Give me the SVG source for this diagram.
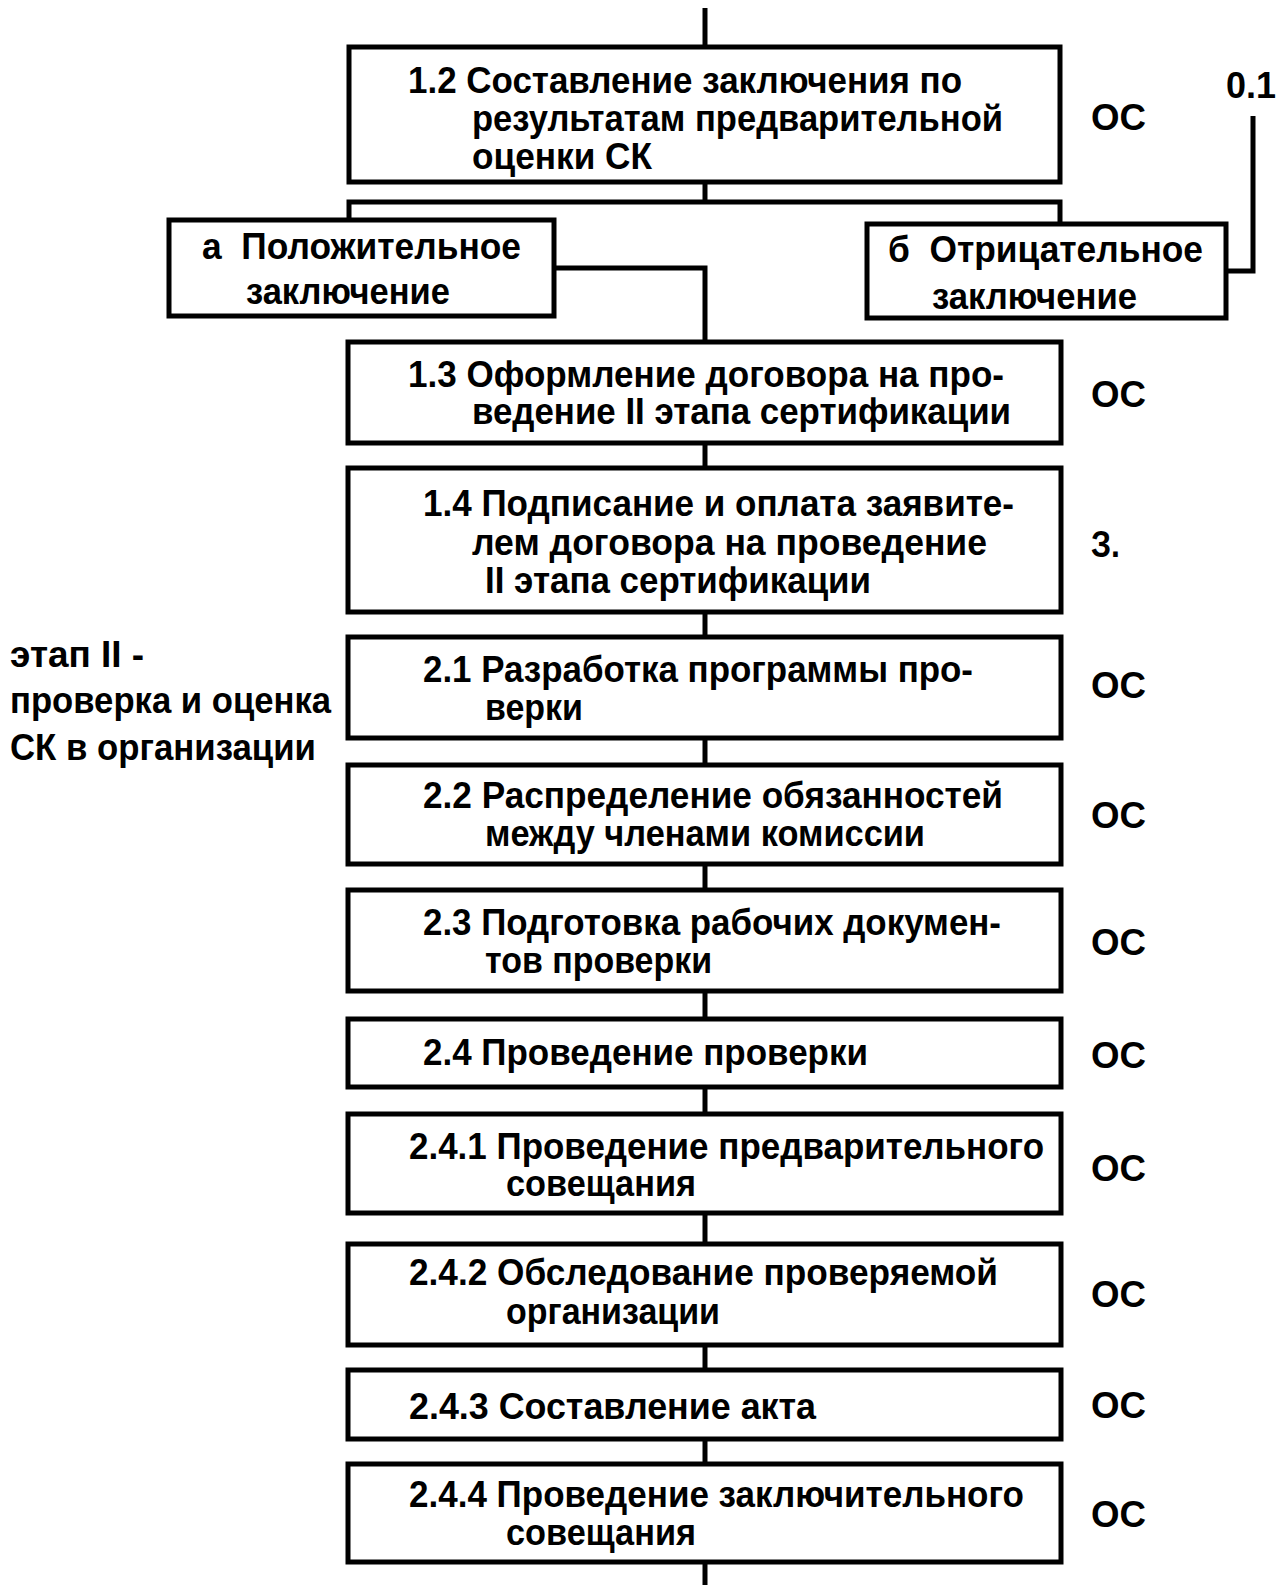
<svg xmlns="http://www.w3.org/2000/svg" width="1284" height="1585" viewBox="0 0 1284 1585">
<style>
.box{fill:#fff;stroke:#000;stroke-width:5}
.ln{fill:none;stroke:#000;stroke-width:5}
text{font-family:"Liberation Sans",Arial,sans-serif;font-weight:bold;font-size:37px;fill:#000}
</style>
<rect width="1284" height="1585" fill="#fff"/>
<g id="connectors">
<path class="ln" d="M705 8V47"/>
<path class="ln" d="M705 182V202"/>
<path class="ln" d="M349 220V202H1060V224"/>
<path class="ln" d="M554 268H705V342"/>
<path class="ln" d="M1226 271H1253V116"/>
<path class="ln" d="M705 443V468"/>
<path class="ln" d="M705 612V637"/>
<path class="ln" d="M705 738V765"/>
<path class="ln" d="M705 864V890"/>
<path class="ln" d="M705 991V1019"/>
<path class="ln" d="M705 1087V1114"/>
<path class="ln" d="M705 1213V1244"/>
<path class="ln" d="M705 1345V1370"/>
<path class="ln" d="M705 1439V1464"/>
<path class="ln" d="M705 1562V1585"/>
</g>
<g id="n12">
<rect class="box" x="349" y="47" width="711" height="135"/>
<text x="408" y="93" textLength="554" lengthAdjust="spacingAndGlyphs">1.2 Составление заключения по</text>
<text x="472" y="131" textLength="531" lengthAdjust="spacingAndGlyphs">результатам предварительной</text>
<text x="472" y="169" textLength="180" lengthAdjust="spacingAndGlyphs">оценки СК</text>
<text x="1091" y="130" textLength="55" lengthAdjust="spacingAndGlyphs">ОС</text>
</g>
<g id="n01">
<text x="1226" y="98" textLength="50" lengthAdjust="spacingAndGlyphs">0.1</text>
</g>
<g id="na">
<rect class="box" x="169" y="220" width="385" height="96"/>
<text x="202" y="259" textLength="319" lengthAdjust="spacingAndGlyphs" xml:space="preserve">а  Положительное</text>
<text x="246" y="304" textLength="204" lengthAdjust="spacingAndGlyphs">заключение</text>
</g>
<g id="nb">
<rect class="box" x="867" y="224" width="359" height="94"/>
<text x="888" y="262" textLength="315" lengthAdjust="spacingAndGlyphs" xml:space="preserve">б  Отрицательное</text>
<text x="932" y="309" textLength="205" lengthAdjust="spacingAndGlyphs">заключение</text>
</g>
<g id="n13">
<rect class="box" x="348" y="342" width="713" height="101"/>
<text x="408" y="387" textLength="596" lengthAdjust="spacingAndGlyphs">1.3 Оформление договора на про-</text>
<text x="472" y="424" textLength="539" lengthAdjust="spacingAndGlyphs">ведение II этапа сертификации</text>
<text x="1091" y="407" textLength="55" lengthAdjust="spacingAndGlyphs">ОС</text>
</g>
<g id="n14">
<rect class="box" x="348" y="468" width="713" height="144"/>
<text x="423" y="516" textLength="591" lengthAdjust="spacingAndGlyphs">1.4 Подписание и оплата заявите-</text>
<text x="472" y="555" textLength="515" lengthAdjust="spacingAndGlyphs">лем договора на проведение</text>
<text x="485" y="593" textLength="386" lengthAdjust="spacingAndGlyphs">II этапа сертификации</text>
<text x="1091" y="557" textLength="29" lengthAdjust="spacingAndGlyphs">З.</text>
</g>
<g id="stage2">
<text x="10" y="667" textLength="134" lengthAdjust="spacingAndGlyphs">этап II -</text>
<text x="10" y="713" textLength="321" lengthAdjust="spacingAndGlyphs">проверка и оценка</text>
<text x="10" y="760" textLength="306" lengthAdjust="spacingAndGlyphs">СК в организации</text>
</g>
<g id="n21">
<rect class="box" x="348" y="637" width="713" height="101"/>
<text x="423" y="682" textLength="550" lengthAdjust="spacingAndGlyphs">2.1 Разработка программы про-</text>
<text x="485" y="720" textLength="98" lengthAdjust="spacingAndGlyphs">верки</text>
<text x="1091" y="698" textLength="55" lengthAdjust="spacingAndGlyphs">ОС</text>
</g>
<g id="n22">
<rect class="box" x="348" y="765" width="713" height="99"/>
<text x="423" y="808" textLength="580" lengthAdjust="spacingAndGlyphs">2.2 Распределение обязанностей</text>
<text x="485" y="846" textLength="440" lengthAdjust="spacingAndGlyphs">между членами комиссии</text>
<text x="1091" y="828" textLength="55" lengthAdjust="spacingAndGlyphs">ОС</text>
</g>
<g id="n23">
<rect class="box" x="348" y="890" width="713" height="101"/>
<text x="423" y="935" textLength="578" lengthAdjust="spacingAndGlyphs">2.3 Подготовка рабочих докумен-</text>
<text x="485" y="973" textLength="227" lengthAdjust="spacingAndGlyphs">тов проверки</text>
<text x="1091" y="955" textLength="55" lengthAdjust="spacingAndGlyphs">ОС</text>
</g>
<g id="n24">
<rect class="box" x="348" y="1019" width="713" height="68"/>
<text x="423" y="1065" textLength="445" lengthAdjust="spacingAndGlyphs">2.4 Проведение проверки</text>
<text x="1091" y="1068" textLength="55" lengthAdjust="spacingAndGlyphs">ОС</text>
</g>
<g id="n241">
<rect class="box" x="348" y="1114" width="713" height="99"/>
<text x="409" y="1159" textLength="635" lengthAdjust="spacingAndGlyphs">2.4.1 Проведение предварительного</text>
<text x="506" y="1196" textLength="190" lengthAdjust="spacingAndGlyphs">совещания</text>
<text x="1091" y="1181" textLength="55" lengthAdjust="spacingAndGlyphs">ОС</text>
</g>
<g id="n242">
<rect class="box" x="348" y="1244" width="713" height="101"/>
<text x="409" y="1285" textLength="589" lengthAdjust="spacingAndGlyphs">2.4.2 Обследование проверяемой</text>
<text x="506" y="1324" textLength="214" lengthAdjust="spacingAndGlyphs">организации</text>
<text x="1091" y="1307" textLength="55" lengthAdjust="spacingAndGlyphs">ОС</text>
</g>
<g id="n243">
<rect class="box" x="348" y="1370" width="713" height="69"/>
<text x="409" y="1419" textLength="407" lengthAdjust="spacingAndGlyphs">2.4.3 Составление акта</text>
<text x="1091" y="1418" textLength="55" lengthAdjust="spacingAndGlyphs">ОС</text>
</g>
<g id="n244">
<rect class="box" x="348" y="1464" width="713" height="98"/>
<text x="409" y="1507" textLength="615" lengthAdjust="spacingAndGlyphs">2.4.4 Проведение заключительного</text>
<text x="506" y="1545" textLength="190" lengthAdjust="spacingAndGlyphs">совещания</text>
<text x="1091" y="1527" textLength="55" lengthAdjust="spacingAndGlyphs">ОС</text>
</g>
</svg>
